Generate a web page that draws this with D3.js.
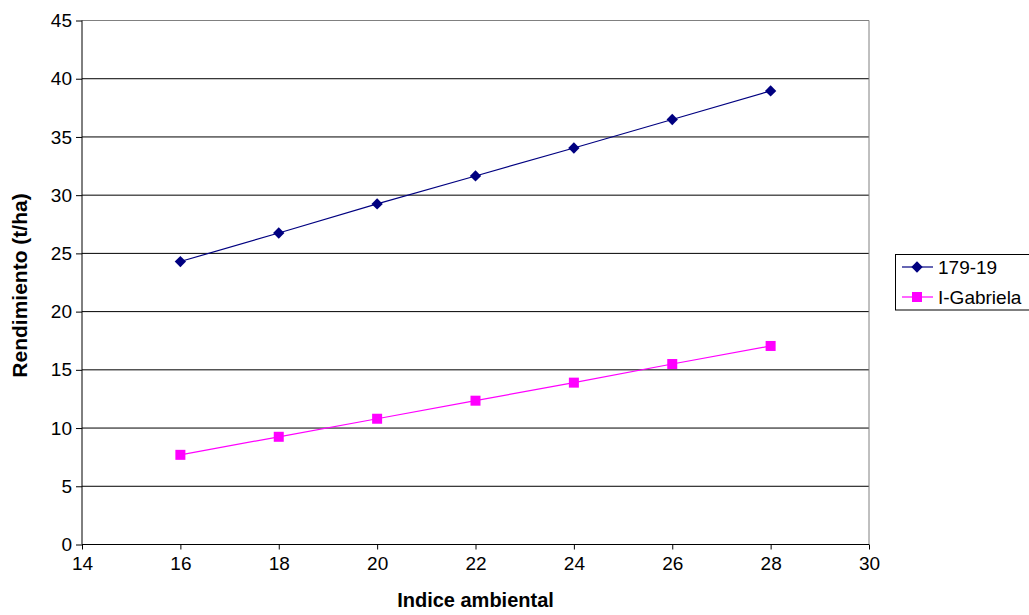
<!DOCTYPE html>
<html><head><meta charset="utf-8">
<script src="https://cdn.jsdelivr.net/npm/d3@7"></script>
<style>body{margin:0;background:#fff}svg{display:block}text{font-family:"Liberation Sans",Arial,sans-serif}</style>
</head><body>
<svg id="c" width="1029" height="615"></svg>
<script>
const xValues = [16, 18, 20, 22, 24, 26, 28];
const series1Name = "179-19";
const series1 = [24.3, 26.75, 29.25, 31.65, 34.05, 36.5, 38.95];
const series2Name = "I-Gabriela";
const series2 = [7.7, 9.25, 10.8, 12.35, 13.9, 15.5, 17.05];
const xTicks = [14, 16, 18, 20, 22, 24, 26, 28, 30];
const yTicks = [0, 5, 10, 15, 20, 25, 30, 35, 40, 45];
const xTitle = "Indice ambiental";
const yTitle = "Rendimiento (t/ha)";

const svg = d3.select("#c");
const L = 82, R = 869, T = 20.5, B = 544.5;
const x = d3.scaleLinear().domain([14, 30]).range([L, R]);
const y = d3.scaleLinear().domain([0, 45]).range([B, T]);

// gridlines
svg.append("g").selectAll("line").data(yTicks.filter(d => d > 0)).join("line")
  .attr("x1", L).attr("x2", R).attr("y1", d => y(d)).attr("y2", d => y(d))
  .attr("stroke", d => d === 45 ? "#808080" : "#000").attr("stroke-width", 1);
// right border
svg.append("line").attr("x1", R).attr("x2", R).attr("y1", T).attr("y2", B).attr("stroke", "#808080");

// axes
const yAxis = d3.axisLeft(y).tickValues(yTicks).tickSize(6).tickPadding(4);
const gy = svg.append("g").attr("transform", `translate(${L},0)`).call(yAxis);
const xAxis = d3.axisBottom(x).tickValues(xTicks).tickSize(5).tickPadding(7);
const gx = svg.append("g").attr("transform", `translate(0,${B})`).call(xAxis);
[gx, gy].forEach(g => {
  g.select(".domain").attr("stroke", "#000");
  g.selectAll(".tick line").attr("stroke", "#000");
  g.selectAll(".tick text").attr("font-size", 19).attr("fill", "#000")
    .style("font-family", '"Liberation Sans",Arial,sans-serif');
});
gx.select(".domain").attr("d", `M${L},0H${R}`);
gy.select(".domain").attr("d", `M0,${T}V${B}`);

// titles
svg.append("text").attr("x", (L + R) / 2).attr("y", 607).attr("text-anchor", "middle")
  .attr("font-size", 20).attr("font-weight", "bold").text(xTitle);
svg.append("text").attr("transform", `translate(27,${(T + B) / 2 + 3}) rotate(-90)`)
  .attr("text-anchor", "middle").attr("font-size", 21).attr("font-weight", "bold").text(yTitle);

const line = d3.line().x((d, i) => x(xValues[i])).y(d => y(d));

function drawSeries(vals, color, shape) {
  svg.append("path").datum(vals).attr("d", line).attr("fill", "none").attr("stroke", color).attr("stroke-width", 1.2);
  const g = svg.append("g");
  if (shape === "diamond") {
    g.selectAll("path").data(vals).join("path")
      .attr("d", d3.symbol().type(d3.symbolSquare).size(64))
      .attr("transform", (d, i) => `translate(${x(xValues[i])},${y(d)}) rotate(45)`)
      .attr("fill", color);
  } else {
    g.selectAll("rect").data(vals).join("rect")
      .attr("x", (d, i) => x(xValues[i]) - 5).attr("y", d => y(d) - 5)
      .attr("width", 10).attr("height", 10).attr("fill", color);
  }
}
drawSeries(series1, "#000080", "diamond");
drawSeries(series2, "#FF00FF", "square");

// legend
const lg = svg.append("g");
lg.append("rect").attr("x", 895.5).attr("y", 254.5).attr("width", 140).attr("height", 55.5)
  .attr("fill", "#fff").attr("stroke", "#000").attr("stroke-width", 1);
const items = [[series1Name, "#000080", "diamond", 267], [series2Name, "#FF00FF", "square", 297]];
items.forEach(([name, color, shape, cy]) => {
  lg.append("line").attr("x1", 902).attr("x2", 933).attr("y1", cy).attr("y2", cy).attr("stroke", color).attr("stroke-width", 1.2);
  if (shape === "diamond") {
    lg.append("path").attr("d", d3.symbol().type(d3.symbolSquare).size(64)).attr("transform", `translate(917,${cy}) rotate(45)`).attr("fill", color);
  } else {
    lg.append("rect").attr("x", 912).attr("y", cy - 5).attr("width", 10).attr("height", 10).attr("fill", color);
  }
  lg.append("text").attr("x", 938).attr("y", cy + 7).attr("font-size", 19).attr("fill", "#000").text(name);
});
</script>
</body></html>
